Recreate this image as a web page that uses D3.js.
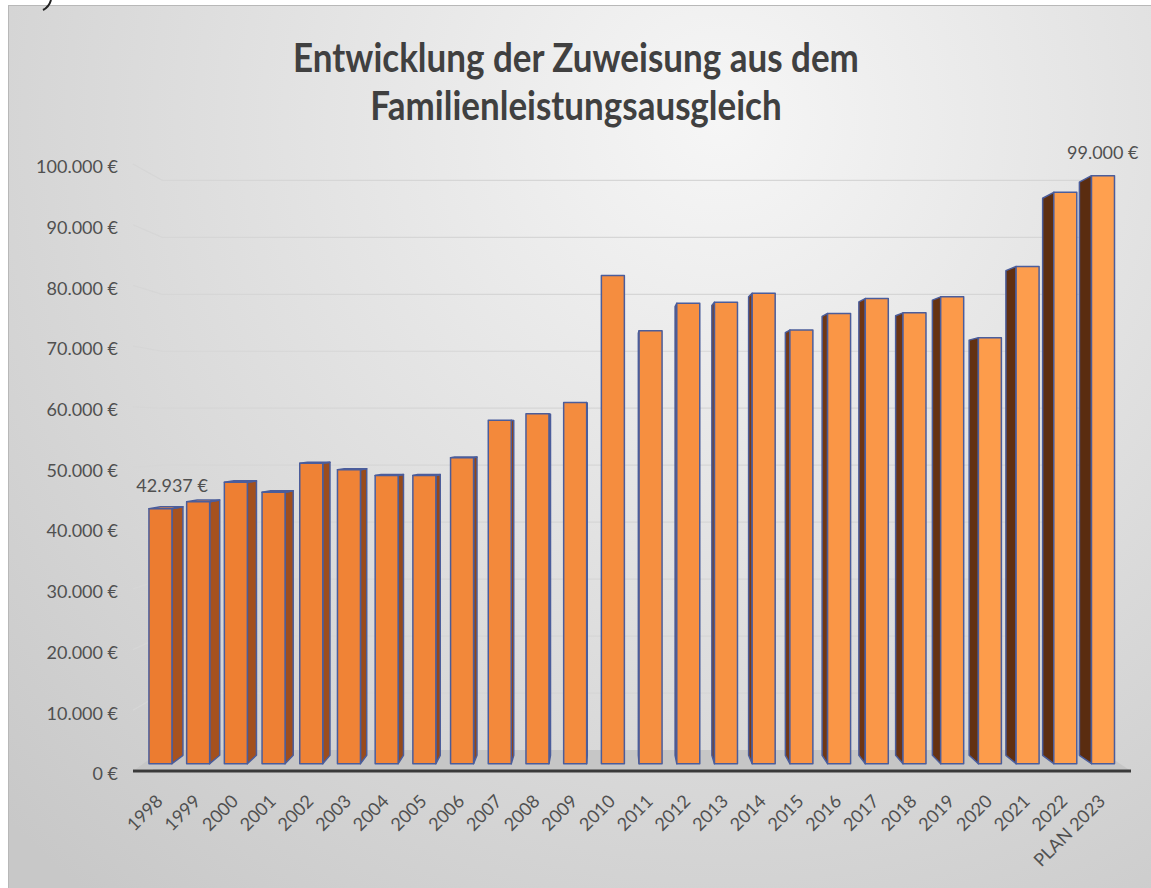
<!DOCTYPE html>
<html>
<head>
<meta charset="utf-8">
<script src="https://cdn.jsdelivr.net/npm/d3@7"></script>
<style>
  html, body { margin: 0; padding: 0; background: #fff; }
  svg { display: block; }
  text { font-family: Lato, "Open Sans", sans-serif; fill: #505050; }
</style>
</head>
<body>
<svg id="chart" width="1151" height="888"></svg>
<script>
'use strict';

// Values (Euro).
const categories = ['1998', '1999', '2000', '2001', '2002', '2003', '2004', '2005', '2006', '2007',
  '2008', '2009', '2010', '2011', '2012', '2013', '2014', '2015', '2016', '2017',
  '2018', '2019', '2020', '2021', '2022', 'PLAN 2023'];
const values = [42937, 44100, 47400, 45700, 50600, 49500, 48500, 48500, 51500, 57800,
  58900, 60800, 82200, 72900, 77500, 77700, 79200, 73000, 75800, 78300,
  75900, 78600, 71700, 83700, 96200, 99000];
const yTicks = [0, 10000, 20000, 30000, 40000, 50000, 60000, 70000, 80000, 90000, 100000];
const labelled = ['1998', 'PLAN 2023'];
const titleLines = ['Entwicklung der Zuweisung aus dem', 'Familienleistungsausgleich'];

const width = 1151;
const height = 888;

// Simple perspective: front plane is z = 0, back wall is z = 1.
const VX = 610, VY = 430, DEPTH = 0.0614;
const project = (X, Y, z) => {
  const s = 1 - DEPTH * z;
  return [VX + (X - VX) * s, VY + (Y - VY) * s];
};
const barZ = [0.35, 0.75];

const de = d3.formatLocale({ decimal: ',', thousands: '.', grouping: [3], currency: ['', '\u00a0€'] });
const euro = de.format('$,.0f');

const x = d3.scaleBand()
  .domain(categories)
  .range([123.8, 1140.6])
  .padding(0.39);

const y = d3.scaleLinear()
  .domain([0, 100000])
  .range([771, 164]);

const floorX = [133, 1131];

const svg = d3.select('#chart');
const defs = svg.append('defs');

const bg = defs.append('radialGradient')
  .attr('id', 'bg')
  .attr('gradientUnits', 'userSpaceOnUse')
  .attr('cx', 720).attr('cy', 120).attr('r', 1000);
bg.append('stop').attr('offset', 0).attr('stop-color', '#f6f6f6');
bg.append('stop').attr('offset', 1).attr('stop-color', '#c8c8c8');

svg.append('rect')
  .attr('x', 8.5).attr('y', 5.5)
  .attr('width', width).attr('height', height)
  .attr('fill', 'url(#bg)')
  .attr('stroke', '#b8b8b8');

// Bit of a glyph cut off above the chart.
svg.append('path')
  .attr('d', 'M51,0 Q49,7 43,10')
  .attr('fill', 'none')
  .attr('stroke', '#222')
  .attr('stroke-width', 2);

// Title (stretched a little to get closer to the taller original face)
svg.append('g')
  .attr('transform', 'translate(576,0) scale(1,1.12)')
  .selectAll('text')
  .data(titleLines)
  .join('text')
  .attr('x', 0)
  .attr('y', (d, i) => 64 + i * 43)
  .attr('text-anchor', 'middle')
  .style('font-size', '35px')
  .style('font-weight', 700)
  .style('fill', '#404040')
  .text(d => d);

const toPts = pts => pts.map(p => p.join(',')).join(' ');

// Floor
svg.append('polygon')
  .attr('points', toPts([
    project(floorX[0], y(0), 0), project(floorX[1], y(0), 0),
    project(floorX[1], y(0), 1), project(floorX[0], y(0), 1)
  ]))
  .attr('fill', '#c6c6c6');
svg.append('line')
  .attr('x1', floorX[0]).attr('x2', floorX[0] + 20)
  .attr('y1', y(0) - 1).attr('y2', y(0) - 1)
  .attr('stroke', '#e2e2e2');

// Gridlines: side wall diagonal, then along the back wall.
svg.append('g').selectAll('polyline')
  .data(yTicks.filter(d => d > 0))
  .join('polyline')
  .attr('points', d => toPts([
    project(floorX[0], y(d), 0),
    project(floorX[0], y(d), 1),
    project(floorX[1], y(d), 1)
  ]))
  .attr('fill', 'none')
  .attr('stroke', '#d6d6d6')
  .attr('stroke-width', 1.2);

// Front axis line
svg.append('line')
  .attr('x1', floorX[0]).attr('x2', floorX[1])
  .attr('y1', y(0)).attr('y2', y(0))
  .attr('stroke', '#3a3a3a')
  .attr('stroke-width', 3);

// Y axis labels
const yAxis = svg.append('g')
  .attr('transform', 'translate(118,3)')
  .call(d3.axisLeft(y).tickValues(yTicks).tickSize(0).tickPadding(0).tickFormat(euro));
yAxis.select('.domain').remove();
yAxis.selectAll('text')
  .style('font-size', '18px')
  .style('font-family', 'Lato, sans-serif')
  .attr('fill', '#505050');

// Bars
const frontColor = d3.scaleLinear().domain([0, categories.length - 1]).range(['#ec7c30', '#ffa04f']);
const sideColor = d3.scaleLinear().domain([0, categories.length - 1]).range(['#a8531f', '#5a2c10']);

const bars = categories.map((c, i) => ({ label: c, value: values[i], i }));

const barFaces = d => {
  const x0 = x(d.label), x1 = x0 + x.bandwidth();
  const top = y(d.value), bottom = y(0);
  const f = [project(x0, top, barZ[0]), project(x1, top, barZ[0]), project(x1, bottom, barZ[0]), project(x0, bottom, barZ[0])];
  const b = [project(x0, top, barZ[1]), project(x1, top, barZ[1]), project(x1, bottom, barZ[1]), project(x0, bottom, barZ[1])];
  const faces = [];
  if (x1 < VX) faces.push({ pts: [f[1], b[1], b[2], f[2]], fill: sideColor(d.i) });
  if (x0 > VX) faces.push({ pts: [f[0], b[0], b[3], f[3]], fill: sideColor(d.i) });
  if (top > VY) faces.push({ pts: [f[0], f[1], b[1], b[0]], fill: d3.color(frontColor(d.i)).brighter(0.3) });
  faces.push({ pts: f, fill: frontColor(d.i) });
  return faces;
};

// Paint outer bars first so nothing nearer the centre is covered.
const barG = svg.append('g')
  .selectAll('g.bar')
  .data(bars.slice().sort((a, b) => Math.abs(x(b.label) - VX) - Math.abs(x(a.label) - VX)))
  .join('g')
  .classed('bar', true);

barG.selectAll('polygon')
  .data(barFaces)
  .join('polygon')
  .attr('points', d => toPts(d.pts))
  .attr('fill', d => d.fill)
  .attr('stroke', '#4b5d9b')
  .attr('stroke-width', 1.5)
  .attr('stroke-linejoin', 'round');

// Value labels
svg.append('g').selectAll('text')
  .data(bars.filter(d => labelled.includes(d.label)))
  .join('text')
  .attr('x', d => {
    const cx = x(d.label) + x.bandwidth() / 2;
    const a = project(cx, 0, barZ[0])[0], b = project(cx, 0, barZ[1])[0];
    return (a + b) / 2 + 6;
  })
  .attr('y', d => project(0, y(d.value), barZ[0])[1] - 17)
  .attr('text-anchor', 'middle')
  .style('font-size', '18px')
  .text(d => euro(d.value));

// Category labels, rotated
svg.append('g').selectAll('text')
  .data(bars)
  .join('text')
  .attr('transform', d => {
    const cx = project(x(d.label) + x.bandwidth() / 2, 0, barZ[0])[0];
    return `translate(${cx - 1},${y(0) + 27}) rotate(-45)`;
  })
  .attr('text-anchor', 'end')
  .attr('dy', '0.35em')
  .style('font-size', '18px')
  .text(d => d.label);
</script>
</body>
</html>
